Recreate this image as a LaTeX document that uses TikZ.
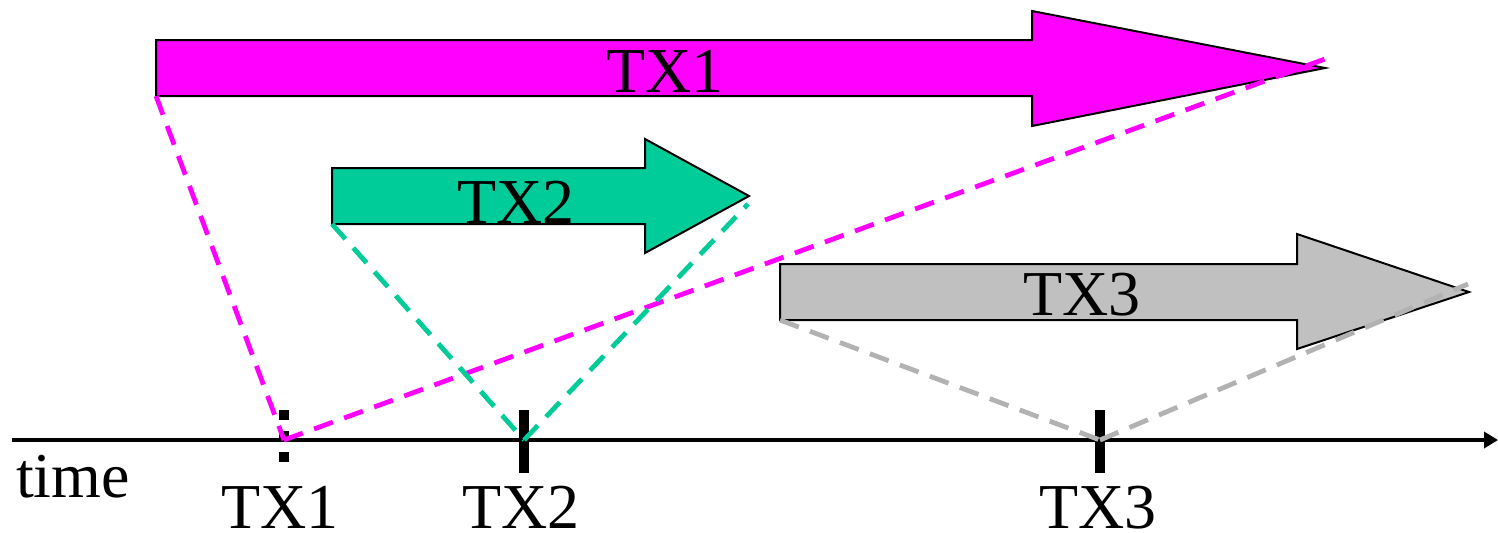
\documentclass[tikz,border=0pt]{standalone}
\usepackage{fontspec}
\setmainfont{Liberation Serif}
\usetikzlibrary{arrows.meta}
\definecolor{txmag}{RGB}{255,0,255}
\definecolor{txgreen}{RGB}{0,204,153}
\definecolor{txgray}{RGB}{192,192,192}
\definecolor{txdash}{RGB}{178,178,178}
\begin{document}
\begin{tikzpicture}[x=0.5pt, y=-0.5pt, font=\fontsize{32}{38}\selectfont, >={Triangle[length=7pt,width=8pt]},
	txbox/.style={draw=black, line width=1pt},
	link/.style={line width=2.4pt, dash pattern=on 10pt off 6pt},
	tick/.style={line width=5pt},
	lbl/.style={anchor=base, inner sep=0pt}]
	\def\ya{440}
	\useasboundingbox (0,0) rectangle (1498,532);
	% transactions
	\draw[txbox, fill=txmag] (156,96) coordinate (s1) -- (156,40) -- (1032,40) -- (1032,11) -- (1325,68) -- (1032,126) -- (1032,96) -- cycle;
	\draw[txbox, fill=txgreen] (332,224) coordinate (s2) -- (332,168) -- (645,168) -- (645,139) -- (749,196) -- (645,253) -- (645,224) -- cycle;
	\draw[txbox, fill=txgray] (780,320) coordinate (s3) -- (780,264) -- (1297,264) -- (1297,234) -- (1469,292) -- (1297,349) -- (1297,320) -- cycle;
	\node[lbl] (a1) at (665,92) {TX1};
	\node[lbl] (a2) at (516,223) {TX2};
	\node[lbl] (a3) at (1082,315) {TX3};
	% time axis
	\draw[->, line width=2.2pt] (12,\ya) coordinate (o) -- (1498,\ya) coordinate (tend);
	\node[lbl] (t) at (73,497) {time};
	\coordinate (k1) at (284,\ya);
	\coordinate (k2) at (524,\ya);
	\coordinate (k3) at (1100,\ya);
	\draw[tick, dash pattern=on 5pt off 5.5pt] (k1) ++(0,-30) -- ++(0,53);
	\draw[tick] (k2) ++(0,-30) -- ++(0,63);
	\draw[tick] (k3) ++(0,-30) -- ++(0,63);
	\node[lbl] (l1) at (280,528) {TX1};
	\node[lbl] (l2) at (521,528) {TX2};
	\node[lbl] (l3) at (1098,528) {TX3};
	% links
	\coordinate (e1) at (1325,59);
	\coordinate (e2) at (748,204);
	\coordinate (e3) at (1468,284);
	\draw[link, txmag] (s1) -- (k1) (k1) -- (e1);
	\draw[link, txgreen] (s2) -- (k2) (k2) -- (e2);
	\draw[link, txdash] (s3) -- (k3) (k3) -- (e3);
\end{tikzpicture}
\end{document}
